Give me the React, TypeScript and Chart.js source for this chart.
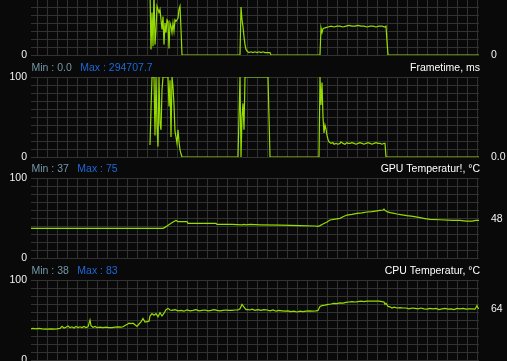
import React, { useEffect, useRef } from "react";
import { Chart, registerables } from "chart.js";

Chart.register(...registerables);

// ---------- data (sample index t = 0..448, value) ----------
const sampleRange = [0, 448];
const gridTimes = Array.from({ length: 45 }, (_, i) => 6.5 + i * 10);

const panelTops = [-25, 77, 178, 280];

const topSeries: [number, number][] = [
  [119, 80], [120, 7], [121, 53], [122, 11], [123, 80], [124, 13], [125, 32], [126, 61], [127, 57], [128, 53],
  [129, 57], [130, 44], [131, 32], [132, 48], [133, 13], [134, 40], [135, 28], [136, 44], [137, 42], [138, 8],
  [139, 40], [140, 36], [141, 28], [142, 40], [143, 30], [144, 44], [145, 42], [146, 44], [147, 46], [148, 57],
  [149, 61], [150, 32], [151, 0],
  [209, 0], [210, 60], [211, 44], [212, 35], [213, 23], [214, 13], [215, 7], [216, 5], [218, 3], [220, 4],
  [222, 3], [224, 4], [226, 3], [228, 4], [230, 3], [232, 4], [234, 3], [237, 3], [239, 3], [240, 0],
  [289, 0], [290, 34], [291, 28], [292, 33], [294, 34], [297, 35], [300, 36], [303, 35], [306, 36], [309, 36],
  [312, 35], [315, 36], [318, 37], [321, 36], [324, 36], [327, 37], [330, 36], [333, 36], [336, 35], [339, 36],
  [342, 36], [345, 35], [348, 36], [351, 36], [354, 35], [355, 36], [356, 17], [357, 0], [448, 0],
];

const frametimeSeries: [number, number][] = [
  [119, 15], [120, 59], [121, 100], [122, 100], [123, 100], [124, 27], [125, 100], [126, 38], [127, 13], [128, 100],
  [129, 42], [130, 34], [131, 84], [132, 100], [137, 100], [138, 63], [139, 96], [140, 25], [141, 100], [142, 88],
  [143, 65], [144, 32], [145, 25], [146, 17], [147, 34], [148, 19], [149, 9], [150, 4], [151, 0],
  [207, 0], [208, 50], [209, 100], [210, 0], [211, 50], [212, 67], [213, 34], [214, 100], [237, 100], [238, 50],
  [239, 0], [288, 0], [289, 100], [290, 65], [291, 93], [292, 50], [293, 30], [294, 40], [295, 35], [296, 27],
  [297, 22], [298, 19], [300, 17], [302, 18], [303, 16], [305, 17], [307, 16], [309, 17], [310, 19], [312, 17],
  [314, 16], [316, 18], [317, 17], [319, 17], [321, 18], [323, 17], [325, 16], [327, 17], [329, 18], [331, 17],
  [333, 16], [335, 17], [337, 18], [339, 17], [341, 16], [343, 17], [345, 18], [347, 17], [349, 17], [351, 16],
  [353, 17], [354, 17], [355, 0], [448, 0],
];

const gpuTempSeries: [number, number][] = [
  [0, 37], [132, 37], [134, 38.3], [136, 40], [139, 42.5], [142, 45], [145, 47], [147, 45.5], [156, 45.5], [157, 43.3],
  [185, 43.3], [186, 42], [190, 42], [201, 42], [211, 41.5], [213, 42], [215, 41.5], [219, 42], [229, 41.5], [249, 41],
  [269, 40.5], [284, 40], [287, 39.5], [289, 40.5], [292, 42.5], [296, 45], [299, 47.5], [304, 48.5], [309, 49.6],
  [312, 51.5], [316, 53.7], [321, 54.5], [326, 55.8], [331, 56.5], [336, 57.5], [341, 58], [346, 59], [349, 59.5],
  [352, 60], [353, 61], [354, 59.5], [356, 58], [359, 56.7], [362, 56], [366, 55], [371, 54], [376, 53], [382, 52],
  [389, 50.4], [394, 49.3], [399, 48.3], [409, 47.8], [422, 47], [429, 47], [435, 46], [441, 46], [445, 47], [448, 47],
];

const cpuTempSeries: [number, number][] = [
  [0, 39], [2, 39.5], [5, 39], [8, 39.5], [11, 38.8], [14, 38.5], [17, 38.5], [20, 39], [23, 38.7], [26, 39],
  [29, 39.5], [31, 42], [33, 40], [35, 41], [37, 42.5], [39, 40.5], [41, 41.5], [43, 40], [45, 42], [47, 40.5],
  [49, 41.5], [51, 40.5], [53, 42], [55, 40.5], [57, 41.5], [59, 50], [60, 43], [62, 41], [64, 42], [66, 40.5],
  [69, 41], [72, 40.5], [75, 41], [78, 40.5], [81, 40.5], [84, 41], [87, 41.5], [90, 41], [92, 41.5], [94, 43],
  [96, 44.5], [98, 46], [100, 45.5], [102, 46], [104, 44], [106, 42], [108, 45], [110, 47.5], [112, 52], [114, 47.5],
  [116, 48], [118, 48.5], [119, 55], [121, 58], [123, 56], [125, 58], [127, 54], [129, 59], [131, 55], [133, 58.5],
  [135, 63], [137, 64.5], [139, 62.5], [141, 62], [144, 63], [147, 61.5], [150, 62], [153, 61], [156, 62.5], [159, 61.5],
  [162, 62], [165, 63], [168, 61.5], [171, 62], [174, 62.5], [177, 61.5], [180, 62], [183, 63], [186, 62], [189, 61.5],
  [192, 62], [195, 62.5], [198, 62], [201, 62], [204, 62.5], [207, 62.5], [209, 64], [211, 69.5], [213, 66], [215, 63],
  [217, 63], [219, 62.5], [221, 63.5], [224, 62], [227, 63], [230, 62], [233, 63], [236, 62.5], [239, 61.5], [242, 62.5],
  [245, 61], [248, 62], [251, 61.5], [254, 61], [257, 61.5], [260, 60.5], [263, 61], [266, 60], [269, 61], [272, 60.5],
  [275, 61], [278, 61.5], [281, 61], [285, 61.5], [287, 62], [289, 67], [291, 68], [294, 68.5], [297, 69.5], [300, 70],
  [303, 70.8], [306, 70.5], [309, 71.5], [312, 71], [315, 72], [318, 72.5], [321, 72.9], [324, 72.5], [327, 73], [330, 73.5],
  [333, 73], [336, 73.7], [339, 73.7], [342, 73.5], [345, 73.7], [348, 73.5], [351, 73], [353, 72.5], [354, 69.5], [355, 71],
  [357, 67], [359, 66.5], [361, 65], [363, 66], [366, 65], [369, 65.5], [372, 65], [375, 65], [378, 64], [381, 65],
  [384, 64.5], [387, 64], [390, 65], [393, 64], [396, 63.5], [399, 64.5], [402, 64], [405, 64.5], [408, 63], [411, 64],
  [414, 64.5], [417, 63.5], [420, 64], [423, 63], [426, 64.5], [429, 64], [432, 64.5], [435, 63.5], [438, 64], [441, 64],
  [444, 63.5], [446, 68], [447, 65], [448, 64],
];

const panelNames = ["", "Frametime, ms", "GPU Temperatur!, \u00b0C", "CPU Temperatur, \u00b0C"];
const panelMins = ["", "0.0", "37", "38"];
const panelMaxs = ["", "294707.7", "75", "83"];
const currentValues = [0, 0, 48, 64];
const currentLabels = ["0", "0.0", "48", "64"];
const panelSeries = [topSeries, frametimeSeries, gpuTempSeries, cpuTempSeries];

// ---------- styles ----------
const BG = "#090909";
const GRID = "#323232";
const LINE = "#96dc00";
const FAMILY = "'Liberation Sans', Arial, sans-serif";
const SIZE = 10.5;
const HEADER_H = 21;
const BOTTOM_PAD = 12;
const CANVAS_H = HEADER_H + 80 + BOTTOM_PAD;

const headerPlugin = {
  id: "header",
  afterDraw(chart: any, _args: any, opts: any) {
    if (!opts || !opts.name) return;
    const { ctx, chartArea } = chart;
    ctx.save();
    ctx.font = `${SIZE}px ${FAMILY}`;
    ctx.textBaseline = "alphabetic";
    const y = chartArea.top - 6;
    ctx.textAlign = "left";
    ctx.fillStyle = "#7596a6";
    const minText = `Min : ${opts.min}`;
    ctx.fillText(minText, chartArea.left + 0.5, y);
    const w = ctx.measureText(minText).width;
    ctx.fillStyle = "#1f68d8";
    ctx.fillText(`Max : ${opts.max}`, chartArea.left + w + 9, y);
    ctx.textAlign = "right";
    ctx.fillStyle = "#ffffff";
    ctx.fillText(opts.name, chartArea.right + 1, y);
    ctx.restore();
  },
};

function Panel({ index }: { index: number }) {
  const ref = useRef<HTMLCanvasElement>(null);
  useEffect(() => {
    const series = panelSeries[index];
    const chart = new Chart(ref.current as HTMLCanvasElement, {
      type: "line",
      data: {
        datasets: [
          {
            data: series.map(([t, v]) => ({ x: t, y: v })),
            borderColor: LINE,
            borderWidth: 1.2,
            pointRadius: 0,
            tension: 0,
            fill: false,
          },
        ],
      },
      options: {
        animation: false,
        responsive: false,
        devicePixelRatio: 1,
        events: [],
        layout: { padding: { top: HEADER_H, bottom: BOTTOM_PAD, left: 0, right: 0 } },
        plugins: {
          legend: { display: false },
          tooltip: { enabled: false },
          header: { name: panelNames[index], min: panelMins[index], max: panelMaxs[index] },
        } as any,
        scales: {
          x: {
            type: "linear",
            min: sampleRange[0],
            max: sampleRange[1],
            grid: { color: GRID, drawTicks: false },
            border: { display: false },
            ticks: { display: false, autoSkip: false },
            afterBuildTicks: (s: any) => {
              s.ticks = gridTimes.map((v) => ({ value: v }));
            },
            afterFit: (s: any) => {
              s.height = 0;
            },
          },
          y: {
            position: "left",
            min: 0,
            max: 100,
            grid: { color: GRID, drawTicks: false },
            border: { display: false },
            ticks: {
              stepSize: 10,
              autoSkip: false,
              padding: 4,
              color: "#f2f2f2",
              font: { family: FAMILY, size: SIZE },
              callback: (v: any) => (v === 0 || v === 100 ? String(v) : ""),
            },
            afterFit: (s: any) => {
              s.width = 31;
            },
          },
          yv: {
            position: "right",
            min: 0,
            max: 100,
            grid: { display: false },
            border: { display: false },
            ticks: {
              autoSkip: false,
              padding: 4,
              color: "#f2f2f2",
              font: { family: FAMILY, size: SIZE },
              callback: () => currentLabels[index],
            },
            afterBuildTicks: (s: any) => {
              s.ticks = [{ value: currentValues[index] }];
            },
            afterFit: (s: any) => {
              s.width = 28;
            },
          },
        } as any,
      },
      plugins: [headerPlugin as any],
    });
    return () => chart.destroy();
  }, [index]);
  return (
    <canvas
      ref={ref}
      width={507}
      height={CANVAS_H}
      style={{ position: "absolute", left: 0, top: panelTops[index] - HEADER_H, width: 507, height: CANVAS_H }}
    />
  );
}

export default function App() {
  return (
    <div
      style={{
        position: "fixed",
        left: 0,
        top: 0,
        width: 507,
        height: 361,
        background: BG,
        overflow: "hidden",
      }}
    >
      {panelTops.map((_, i) => (
        <Panel key={i} index={i} />
      ))}
    </div>
  );
}
